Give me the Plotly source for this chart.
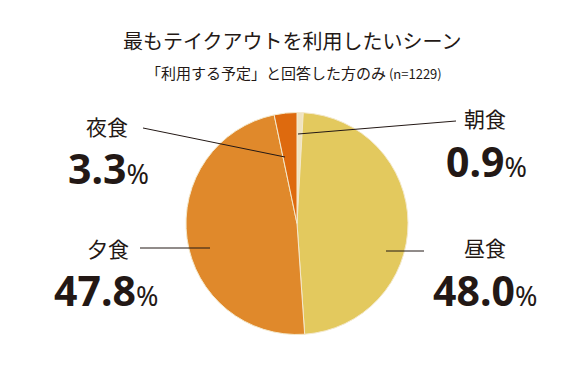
import plotly.graph_objects as go

labels = ["朝食", "昼食", "夕食", "夜食"]
values = [0.9, 48.0, 47.8, 3.3]
colors = ["#f0e3c0", "#e3c95e", "#e0892b", "#de6a0e"]

title = "最もテイクアウトを利用したいシーン"
subtitle = "「利用する予定」と回答した方のみ"
n_note = "(n=1229)"

W, H = 585, 386
OFF = 8  # page body margin

def px(x):
    return (x - OFF) / W

def py(y):
    return 1 - (y - OFF) / H

fig = go.Figure(go.Pie(
    labels=labels, values=values, sort=False, direction="clockwise", rotation=0,
    marker=dict(colors=colors, line=dict(color="#f4e9cc", width=1)),
    textinfo="none", hoverinfo="label+percent", showlegend=False,
    domain=dict(x=[px(186), px(408)], y=[py(335), py(112)]),
))

JP = "Noto Sans CJK JP"
NUM = "Noto Sans"
dark = "#231815"

# label placements (layout only)
label_pos = {"朝食": (485, 118), "昼食": (485, 247), "夕食": (108, 248), "夜食": (107, 126)}
pct_pos = {"朝食": (486, 161), "昼食": (485, 290), "夕食": (106, 290), "夜食": (108, 168)}
leaders = {"朝食": ((456, 121), (298, 134)), "昼食": ((424, 251), (386, 251)),
           "夕食": ((140, 248), (210, 248)), "夜食": ((143, 128), (285, 157))}

annotations = [
    dict(text=title, x=px(292), y=py(41), xref="paper", yref="paper", showarrow=False,
         font=dict(family=JP, size=20, color=dark), xanchor="center", yanchor="middle"),
    dict(text=subtitle + "<span style='font-size:13px'> " + n_note + "</span>",
         x=px(294), y=py(72), xref="paper", yref="paper", showarrow=False,
         font=dict(family=JP, size=15, color=dark), xanchor="center", yanchor="middle"),
]
shapes = []
for lab, v in zip(labels, values):
    lx, ly = label_pos[lab]
    annotations.append(dict(text=lab, x=px(lx), y=py(ly), xref="paper", yref="paper",
                            showarrow=False, font=dict(family=JP, size=21, color=dark),
                            xanchor="center", yanchor="middle"))
    nx, ny = pct_pos[lab]
    annotations.append(dict(text=f"<b>{v:.1f}</b><span style='font-size:27px'>%</span>",
                            x=px(nx), y=py(ny), xref="paper", yref="paper", showarrow=False,
                            font=dict(family=NUM, size=41, color=dark),
                            xanchor="center", yanchor="middle"))
    (x0, y0), (x1, y1) = leaders[lab]
    shapes.append(dict(type="line", xref="paper", yref="paper", x0=px(x0), y0=py(y0),
                       x1=px(x1), y1=py(y1), line=dict(color=dark, width=1)))

fig.update_layout(width=W, height=H, margin=dict(l=0, r=0, t=0, b=0),
                  paper_bgcolor="white", plot_bgcolor="white",
                  annotations=annotations, shapes=shapes)
fig.write_html("out.html")
